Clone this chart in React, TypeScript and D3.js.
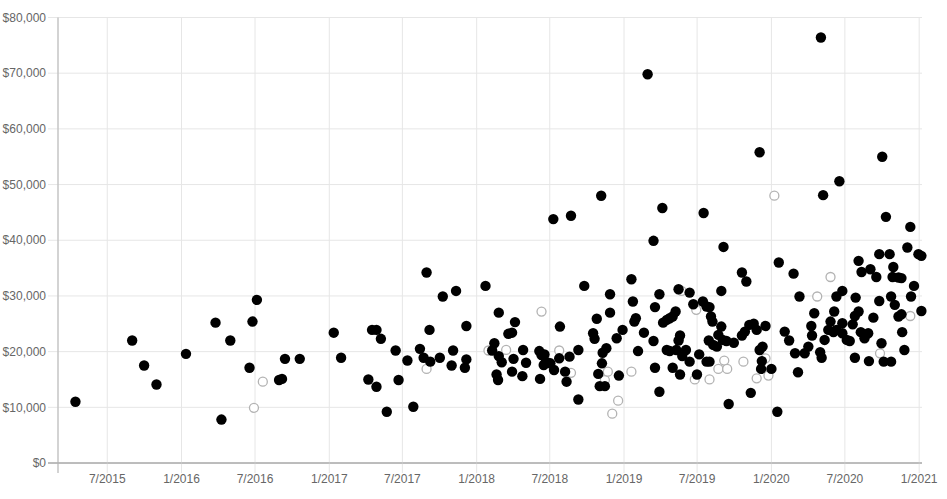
import React from 'react';
import * as d3 from 'd3';

// Scatter of sale amounts over time: filled = closed deals, hollow = open quotes
// points are [decimal year, amount in $k]

const closedDeals: [number, number][] = [
  [2015.28, 11.0], [2015.665, 22.0], [2015.746, 17.5], [2015.83, 14.1], [2016.03, 19.6],
  [2016.23, 25.2], [2016.27, 7.8], [2016.33, 22.0], [2016.46, 17.1], [2016.48, 25.4],
  [2016.51, 29.3], [2016.66, 14.9], [2016.68, 15.1], [2016.70, 18.7], [2016.80, 18.7],
  [2017.03, 23.4], [2017.08, 18.9], [2017.265, 15.0], [2017.29, 23.9], [2017.32, 23.9],
  [2017.32, 13.7], [2017.35, 22.3], [2017.39, 9.2], [2017.45, 20.2], [2017.47, 14.9],
  [2017.53, 18.4], [2017.57, 10.1], [2017.615, 20.5], [2017.64, 18.9], [2017.66, 34.2],
  [2017.68, 23.9], [2017.685, 18.2], [2017.75, 18.9], [2017.77, 29.9], [2017.83, 17.5],
  [2017.84, 20.2], [2017.86, 30.9], [2017.93, 24.6], [2017.93, 18.6], [2017.92, 17.1],
  [2018.06, 31.8], [2018.105, 20.2], [2018.12, 21.5], [2018.15, 27.0], [2018.15, 19.2],
  [2018.17, 18.1], [2018.135, 15.9], [2018.145, 14.9], [2018.215, 23.2], [2018.24, 23.4],
  [2018.26, 25.3], [2018.25, 18.7], [2018.24, 16.4], [2018.31, 15.6], [2018.315, 20.3],
  [2018.335, 18.0], [2018.425, 20.1], [2018.44, 19.4], [2018.46, 19.5], [2018.47, 18.2],
  [2018.455, 17.6], [2018.50, 17.9], [2018.525, 16.7], [2018.43, 15.1], [2018.52, 43.8],
  [2018.64, 44.4], [2018.565, 24.5], [2018.56, 18.8], [2018.60, 16.4], [2018.61, 14.6],
  [2018.63, 19.1], [2018.69, 20.3], [2018.69, 11.4], [2018.73, 31.8], [2018.845, 48.0],
  [2018.815, 25.9], [2018.79, 23.3], [2018.80, 22.3], [2018.855, 19.8], [2018.88, 20.6],
  [2018.85, 17.9], [2018.825, 16.0], [2018.835, 13.8], [2018.87, 13.8], [2018.905, 30.3],
  [2018.905, 27.0], [2018.95, 22.4], [2018.965, 15.7], [2018.99, 23.9], [2019.05, 33.0],
  [2019.06, 29.0], [2019.07, 25.4], [2019.08, 26.0], [2019.095, 20.1], [2019.135, 23.4],
  [2019.20, 21.9], [2019.20, 39.9], [2019.26, 45.8], [2019.24, 30.3], [2019.21, 28.0],
  [2019.21, 17.1], [2019.24, 12.8], [2019.265, 25.2], [2019.29, 25.7], [2019.31, 26.0],
  [2019.33, 26.3], [2019.35, 27.2], [2019.29, 20.3], [2019.31, 20.1], [2019.355, 20.3],
  [2019.33, 17.1], [2019.38, 15.9], [2019.37, 31.2], [2019.38, 22.9], [2019.37, 22.0],
  [2019.395, 19.2], [2019.42, 20.3], [2019.445, 18.2], [2019.445, 30.6], [2019.47, 28.5],
  [2019.51, 19.5], [2019.495, 15.9], [2019.54, 44.9], [2019.535, 29.0], [2019.56, 28.1],
  [2019.58, 28.0], [2019.59, 26.3], [2019.60, 25.4], [2019.575, 22.0], [2019.605, 21.2],
  [2019.63, 20.9], [2019.56, 18.2], [2019.58, 18.2], [2019.675, 38.8], [2019.66, 30.9],
  [2019.66, 24.5], [2019.64, 23.0], [2019.67, 22.1], [2019.695, 21.9], [2019.745, 21.6],
  [2019.71, 10.6], [2019.80, 34.2], [2019.83, 32.6], [2019.80, 22.9], [2019.82, 23.6],
  [2019.85, 24.8], [2019.88, 25.0], [2019.90, 23.9], [2019.86, 12.6], [2019.96, 24.6],
  [2019.92, 20.3], [2019.94, 20.9], [2019.935, 18.3], [2019.93, 16.9], [2020.00, 16.9],
  [2020.04, 9.2], [2020.05, 36.0], [2020.15, 34.0], [2020.19, 29.9], [2020.09, 23.6],
  [2020.12, 22.0], [2020.16, 19.7], [2020.18, 16.3], [2020.225, 19.7], [2020.25, 20.9],
  [2020.29, 26.9], [2020.27, 24.6], [2020.275, 22.9], [2020.33, 19.9], [2020.34, 18.9],
  [2020.36, 22.1], [2020.35, 48.1], [2020.46, 50.6], [2020.44, 29.9], [2020.48, 30.9],
  [2020.425, 27.2], [2020.40, 25.4], [2020.385, 23.9], [2020.42, 23.5], [2020.44, 23.9],
  [2020.48, 25.1], [2020.48, 23.3], [2020.51, 22.1], [2020.53, 21.9], [2020.55, 24.9],
  [2020.57, 29.7], [2020.565, 26.4], [2020.59, 27.2], [2020.565, 18.9], [2020.59, 36.3],
  [2020.61, 34.3], [2020.67, 34.8], [2020.71, 33.4], [2020.69, 26.1], [2020.605, 23.5],
  [2020.63, 23.0], [2020.655, 23.3], [2020.63, 22.4], [2020.66, 18.3], [2020.73, 37.5],
  [2020.80, 37.5], [2020.825, 35.2], [2020.82, 33.4], [2020.86, 33.3], [2020.88, 33.2],
  [2020.775, 44.2], [2020.94, 42.4], [2020.92, 38.7], [2020.995, 37.5], [2021.015, 37.2],
  [2020.965, 31.8], [2020.945, 29.9], [2021.015, 27.3], [2020.73, 29.1], [2020.81, 29.9],
  [2020.835, 28.4], [2020.86, 26.3], [2020.88, 26.7], [2020.745, 21.5], [2020.76, 18.2],
  [2020.81, 18.2], [2020.885, 23.5], [2020.90, 20.3],
  [2019.16, 69.8], [2020.335, 76.4], [2019.92, 55.8], [2020.75, 55.0],
];

const openQuotes: [number, number][] = [
  [2016.49, 9.9], [2016.55, 14.6], [2017.66, 16.9], [2018.08, 20.2], [2018.20, 20.3],
  [2018.44, 27.2], [2018.56, 20.2], [2018.64, 16.2], [2018.87, 14.9], [2018.89, 16.4],
  [2018.92, 8.85], [2018.96, 11.2], [2019.05, 16.4], [2019.39, 30.9], [2019.49, 27.5],
  [2019.48, 15.0], [2019.58, 15.0], [2019.64, 16.9], [2019.68, 18.4], [2019.70, 16.9],
  [2019.81, 18.2], [2019.90, 15.2], [2019.96, 18.8], [2019.98, 15.7], [2020.02, 48.0],
  [2020.31, 29.9], [2020.40, 33.4], [2020.735, 19.7], [2020.94, 26.4],
];

const xTickLabels = [
  '7/2015', '1/2016', '7/2016', '1/2017', '7/2017', '1/2018',
  '7/2018', '1/2019', '7/2019', '1/2020', '7/2020', '1/2021',
];
const yTicks = [0, 10000, 20000, 30000, 40000, 50000, 60000, 70000, 80000];

const W = 947;
const H = 499;
const margin = { left: 58, right: 25, top: 17.5, bottom: 36 };

const toDate = (yr: number) => {
  const y = Math.floor(yr);
  const a = new Date(y, 0, 1).getTime();
  const b = new Date(y + 1, 0, 1).getTime();
  return new Date(a + (yr - y) * (b - a));
};
const parseTick = (s: string) => {
  const [m, y] = s.split('/').map(Number);
  return new Date(y, m - 1, 1);
};

const x = d3.scaleTime()
  .domain([new Date(2015, 2, 1), new Date(2021, 0, 8)])
  .range([margin.left, W - margin.right]);
const y = d3.scaleLinear()
  .domain([0, 80000])
  .range([H - margin.bottom, margin.top]);

const fmt = d3.format(',');
const font = '"Liberation Sans", Arial, Helvetica, sans-serif';

export default function App() {
  const x0 = margin.left;
  const x1 = W - margin.right;
  const y0 = H - margin.bottom;
  const y1 = margin.top;
  return (
    <svg width={W} height={H} style={{ position: 'absolute', left: 0, top: 0, background: '#fff' }}>
      {/* horizontal grid */}
      {yTicks.map(t => (
        <line key={'gy' + t} x1={x0 - 10} x2={x1} y1={y(t)} y2={y(t)}
          stroke={t === 0 ? '#a6a6a6' : '#e6e6e6'} strokeWidth={1} />
      ))}
      {/* vertical grid */}
      {xTickLabels.map(s => (
        <line key={'gx' + s} x1={x(parseTick(s))} x2={x(parseTick(s))} y1={y1} y2={y0 + 10}
          stroke="#e6e6e6" strokeWidth={1} />
      ))}
      <line x1={x0} x2={x0} y1={y1} y2={y0 + 10} stroke="#c4c4c4" strokeWidth={1.5} />
      <line x1={x0 - 10} x2={x1} y1={y0} y2={y0} stroke="#a6a6a6" strokeWidth={1} />

      {yTicks.map(t => (
        <text key={'ly' + t} x={x0 - 12} y={y(t)} dy="0.35em" textAnchor="end"
          fontFamily={font} fontSize={12} fill="#666">
          {'$' + fmt(t)}
        </text>
      ))}
      {xTickLabels.map(s => (
        <text key={'lx' + s} x={x(parseTick(s))} y={y0 + 20} textAnchor="middle"
          fontFamily={font} fontSize={12} fill="#666">
          {s}
        </text>
      ))}

      {openQuotes.map(([t, v], i) => (
        <circle key={'o' + i} cx={x(toDate(t))} cy={y(v * 1000)} r={4.5}
          fill="#fff" stroke="#b3b3b3" strokeWidth={1.3} />
      ))}
      {closedDeals.map(([t, v], i) => (
        <circle key={'c' + i} cx={x(toDate(t))} cy={y(v * 1000)} r={5.2} fill="#000" />
      ))}
    </svg>
  );
}
